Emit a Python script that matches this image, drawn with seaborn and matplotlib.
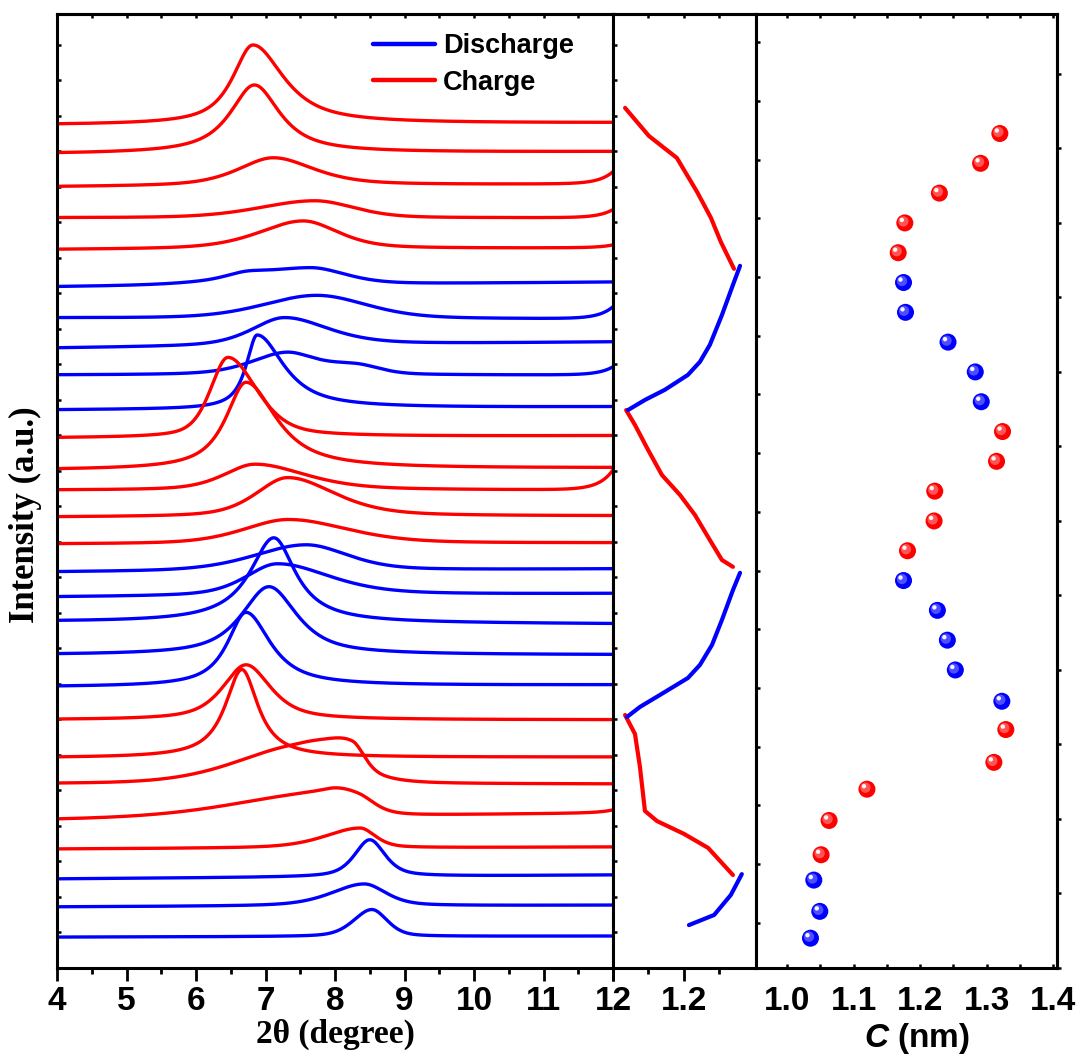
import numpy as np
import matplotlib
matplotlib.use("Agg")
import matplotlib.pyplot as plt
import matplotlib.transforms as mtransforms
from matplotlib.lines import Line2D
from matplotlib.ticker import FixedLocator, MultipleLocator, FormatStrFormatter, NullFormatter
import seaborn as sns

# ---------------- in-situ XRD patterns (top of the stack first) ----------------
scan_phase = (["Charge"] * 5 + ["Discharge"] * 5 + ["Charge"] * 5 +
              ["Discharge"] * 5 + ["Charge"] * 5 + ["Discharge"] * 3)
base_left = [23.75, 22.93, 22.00, 21.13, 20.23, 19.18, 18.31, 17.46, 16.70, 15.72,
             14.93, 14.03, 13.46, 12.70, 11.94, 11.15, 10.45, 9.75, 8.82, 7.92,
             6.99, 5.92, 5.18, 4.17, 3.35, 2.51, 1.72, 0.87]
base_right = [23.80, 22.99, 22.08, 21.13, 20.28, 19.32, 18.28, 17.63, 16.70, 15.80,
              14.99, 14.08, 13.46, 12.73, 11.97, 11.24, 10.54, 9.69, 8.82, 7.97,
              6.99, 5.94, 5.18, 4.37, 3.41, 2.62, 1.77, 0.90]
peak_pos = [6.82, 6.84, 7.11, 7.71, 7.54, 7.64, 7.74, 7.27, 7.30, 6.88,
            6.46, 6.72, 6.85, 7.32, 7.33, 7.58, 7.17, 7.12, 7.05, 6.72,
            6.72, 6.66, 7.55, 7.90, 8.36, 8.50, 8.42, 8.53]
peak_amp = [2.23, 1.92, 0.79, 0.48, 0.79, 0.48, 0.65, 0.79, 0.62, 2.08,
            2.25, 2.45, 0.73, 1.10, 0.68, 0.73, 0.90, 2.39, 1.92, 2.08,
            1.55, 2.48, 1.07, 0.68, 0.56, 1.04, 0.62, 0.76]
peak_hw_left = [0.35, 0.42, 0.60, 0.93, 0.75, 1.10, 0.90, 0.55, 0.60, 0.19,
                0.30, 0.35, 0.53, 0.54, 0.76, 0.88, 0.54, 0.42, 0.47, 0.32,
                0.40, 0.29, 1.10, 1.50, 0.60, 0.26, 0.56, 0.31]
peak_hw_right = [0.53, 0.44, 0.70, 0.66, 0.60, 0.60, 0.84, 0.75, 0.50, 0.46,
                 0.49, 0.52, 0.86, 0.80, 1.00, 0.71, 0.90, 0.38, 0.48, 0.42,
                 0.42, 0.28, 0.70, 0.50, 0.26, 0.26, 0.37, 0.26]
peak_lorentz = [0.85, 0.90, 0.60, 0.30, 0.50, 0.40, 0.30, 0.50, 0.50, 0.90,
                0.50, 0.90, 0.50, 0.50, 0.40, 0.40, 0.50, 1.00, 0.80, 0.90,
                0.70, 0.95, 0.30, 0.30, 0.50, 0.60, 0.50, 0.40]
shoulder_pos = [0, 0, 0, 0, 0, 6.70, 0, 0, 8.30, 0,
                0, 0, 0, 0, 0, 0, 0, 0, 0, 0,
                0, 0, 8.25, 8.35, 0, 0, 0, 0]
shoulder_amp = [0, 0, 0, 0, 0, 0.11, 0, 0, 0.25, 0,
                0, 0, 0, 0, 0, 0, 0, 0, 0, 0,
                0, 0, 0.68, 0.25, 0, 0, 0, 0]
shoulder_hw_left = [1, 1, 1, 1, 1, 0.30, 1, 1, 0.50, 1,
                    1, 1, 1, 1, 1, 1, 1, 1, 1, 1,
                    1, 1, 0.40, 0.40, 1, 1, 1, 1]
shoulder_hw_right = [1, 1, 1, 1, 1, 0.30, 1, 1, 0.40, 1,
                     1, 1, 1, 1, 1, 1, 1, 1, 1, 1,
                     1, 1, 0.20, 0.25, 1, 1, 1, 1]
edge_rise = [0, 0, 0.34, 0.23, 0.08, 0, 0.34, 0, 0.23, 0,
             0, 0, 0.56, 0, 0, 0, 0, 0, 0, 0,
             0, 0, 0, 0.08, 0, 0, 0, 0]

# ---------------- electrode curve, in time order (bottom to top) ----------------
seg_phase = ["Discharge", "Charge", "Discharge", "Charge", "Discharge", "Charge"]
seg_value = [
    [1.214, 1.285, 1.332, 1.363],
    [1.338, 1.268, 1.200, 1.124, 1.090, 1.076, 1.062, 1.034],
    [1.039, 1.076, 1.132, 1.211, 1.245, 1.279, 1.307, 1.338, 1.358],
    [1.338, 1.307, 1.273, 1.231, 1.189, 1.138, 1.099, 1.062, 1.037],
    [1.042, 1.090, 1.146, 1.211, 1.245, 1.273, 1.307, 1.338, 1.358],
    [1.341, 1.304, 1.276, 1.237, 1.180, 1.101, 1.034],
]
seg_time = [
    [1.44, 1.78, 2.45, 3.15],
    [3.12, 4.03, 4.50, 4.93, 5.27, 6.74, 7.85, 8.49],
    [8.42, 8.76, 9.16, 9.73, 10.17, 10.84, 11.68, 12.68, 13.26],
    [13.46, 13.69, 14.36, 15.20, 15.87, 16.54, 17.38, 18.22, 18.72],
    [18.72, 19.06, 19.40, 19.90, 20.34, 20.91, 21.91, 22.92, 23.56],
    [23.46, 24.36, 25.17, 26.04, 27.18, 27.92, 28.86],
]

# ---------------- interlayer spacing C per scan (bottom to top) ----------------
c_time = [1.0, 1.9, 2.95, 3.8, 4.95, 6.0, 6.9, 8.0, 8.95, 10.0, 11.0, 12.0, 13.0, 14.0,
          15.0, 16.0, 17.0, 18.0, 19.0, 20.0, 21.0, 22.0, 23.0, 24.0, 25.0, 26.0, 27.0, 28.0]
c_nm = [1.035, 1.049, 1.040, 1.051, 1.063, 1.120, 1.311, 1.329, 1.323, 1.253, 1.241,
        1.226, 1.175, 1.181, 1.221, 1.222, 1.315, 1.324, 1.292, 1.283, 1.242, 1.178,
        1.175, 1.167, 1.177, 1.229, 1.291, 1.320]
c_phase = (["Discharge"] * 3 + ["Charge"] * 5 + ["Discharge"] * 5 + ["Charge"] * 5 +
           ["Discharge"] * 5 + ["Charge"] * 5)

palette = {"Discharge": "#0000ff", "Charge": "#ff0000"}
highlight = {"Discharge": "#8f8fff", "Charge": "#ff9a9a"}

sns.set_theme(style="ticks")
plt.rcParams.update({
    "font.family": ["Liberation Sans", "DejaVu Sans"],
    "font.weight": "bold",
    "text.color": "black",
    "axes.labelcolor": "black",
    "axes.linewidth": 2.2,
    "axes.edgecolor": "black",
    "xtick.color": "black",
    "ytick.color": "black",
    "xtick.labelcolor": "black",
    "ytick.labelcolor": "black",
    "mathtext.fontset": "custom",
    "mathtext.it": "Liberation Sans:italic:bold",
    "mathtext.rm": "Liberation Sans:bold",
})

fig = plt.figure(figsize=(10.84, 10.56), dpi=100)
W, H = 1084.0, 1056.0
ax1 = fig.add_axes([57 / W, 88 / H, 556 / W, 954 / H])
ax2 = fig.add_axes([613 / W, 88 / H, 143 / W, 954 / H])
ax3 = fig.add_axes([756 / W, 88 / H, 301 / W, 954 / H])


def split_pseudo_voigt(x, c, a, wl, wr, eta):
    w = np.where(x < c, wl, wr)
    d = (x - c) / w
    return a * (eta / (1.0 + d ** 2) + (1.0 - eta) * np.exp(-np.log(2.0) * d ** 2))


two_theta = np.linspace(4, 12, 1601)
for i in range(len(scan_phase)):
    base = base_left[i] + (base_right[i] - base_left[i]) * (two_theta - 4) / 8
    y = base + split_pseudo_voigt(two_theta, peak_pos[i], peak_amp[i],
                                  peak_hw_left[i], peak_hw_right[i], peak_lorentz[i])
    if shoulder_amp[i] > 0:
        y = y + split_pseudo_voigt(two_theta, shoulder_pos[i], shoulder_amp[i],
                                   shoulder_hw_left[i], shoulder_hw_right[i], 0.3)
    y = y + edge_rise[i] * np.exp((two_theta - 12) / 0.2)
    sns.lineplot(x=two_theta, y=y, color=palette[scan_phase[i]], linewidth=2.4,
                 sort=False, estimator=None, ax=ax1)

ax1.set_xlim(4, 12)
ax1.set_ylim(0, 26.87)
ax1.xaxis.set_major_locator(MultipleLocator(1))
ax1.xaxis.set_minor_locator(MultipleLocator(0.5))
ax1.tick_params(axis="x", which="major", direction="out", length=9, width=2.0,
                labelsize=24, pad=4)
ax1.tick_params(axis="x", which="minor", direction="out", length=4.5, width=2.0)
ax1.yaxis.set_major_locator(FixedLocator(np.arange(27)))
ax1.yaxis.set_major_formatter(NullFormatter())
ax1.tick_params(axis="y", direction="in", length=3, width=1.8, left=True, right=False)
top1 = ax1.secondary_xaxis("top")
top1.xaxis.set_major_locator(MultipleLocator(0.5))
top1.xaxis.set_major_formatter(NullFormatter())
top1.tick_params(direction="in", length=3, width=1.8)
for lab in ax1.get_xticklabels():
    lab.set_fontweight("bold")
ax1.set_xlabel("2θ (degree)", family="Liberation Serif", fontsize=24, fontweight="bold")
ax1.xaxis.set_label_coords(0.5, -0.053)
ax1.set_ylabel("Intensity (a.u.)", family="Liberation Serif", fontsize=25, fontweight="bold")
ax1.yaxis.set_label_coords(-0.027, 0.475)

handles = [Line2D([], [], color=palette["Discharge"], linewidth=3.2),
           Line2D([], [], color=palette["Charge"], linewidth=3.2)]
ax1.legend(handles, ["Discharge", "Charge"], loc="upper left",
           bbox_to_anchor=(0.568, 0.98), frameon=False,
           prop={"size": 19.5, "weight": "bold", "family": "Liberation Sans"},
           handlelength=2.3, handletextpad=0.3, labelspacing=0.4,
           borderpad=0, borderaxespad=0)

# middle: electrode curve
for vals, times, ph in zip(seg_value, seg_time, seg_phase):
    sns.lineplot(x=vals, y=times, color=palette[ph], linewidth=3.0, sort=False,
                 estimator=None, ax=ax2, solid_capstyle="round", solid_joinstyle="round")
ax2.set_xlim(1.0, 1.403)
ax2.set_ylim(0, 32.01)
ax2.xaxis.set_major_locator(FixedLocator([1.0, 1.2]))
ax2.set_xticklabels(["", "1.2"])
ax2.xaxis.set_minor_locator(FixedLocator([1.1, 1.3]))
ax2.tick_params(axis="x", which="major", direction="out", length=9, width=2.0,
                labelsize=24, pad=4)
ax2.tick_params(axis="x", which="minor", direction="out", length=4.5, width=2.0)
for lab in ax2.get_xticklabels():
    lab.set_fontweight("bold")
ax2.yaxis.set_major_locator(FixedLocator(np.arange(27) * 32.01 / 26.87))
ax2.yaxis.set_major_formatter(NullFormatter())
ax2.tick_params(axis="y", direction="in", length=3, width=1.8, left=True, right=False)
top2 = ax2.secondary_xaxis("top")
top2.xaxis.set_major_locator(FixedLocator([1.1, 1.2, 1.3]))
top2.xaxis.set_major_formatter(NullFormatter())
top2.tick_params(direction="in", length=3, width=1.8)
ax2.set_xlabel("")
ax2.set_ylabel("")

# right: interlayer spacing
sns.scatterplot(x=c_nm, y=c_time, hue=c_phase, palette=palette, s=150,
                edgecolor="none", linewidth=0, legend=False, ax=ax3, zorder=3)
for dx, dy, size, alpha, key in [(-1.5, 1.5, 55, 0.55, "tint"), (-3.0, 3.0, 10, 0.95, "white")]:
    tr = mtransforms.offset_copy(ax3.transData, fig=fig, x=dx, y=dy, units="dots")
    cols = [highlight[p] if key == "tint" else "white" for p in c_phase]
    ax3.scatter(c_nm, c_time, s=size, c=cols, alpha=alpha, edgecolors="none",
                transform=tr, zorder=4)
ax3.set_xlim(0.953, 1.406)
ax3.set_ylim(0, 32.01)
ax3.xaxis.set_major_locator(MultipleLocator(0.1))
ax3.xaxis.set_major_formatter(FormatStrFormatter("%.1f"))
ax3.xaxis.set_minor_locator(MultipleLocator(0.05))
ax3.tick_params(axis="x", which="both", direction="in", length=3, width=1.8,
                top=True, bottom=True, labelsize=24, pad=13)
for lab in ax3.get_xticklabels():
    lab.set_fontweight("bold")
ax3.yaxis.set_major_locator(FixedLocator(np.linspace(1.52, 31.06, 16)))
ax3.yaxis.set_major_formatter(NullFormatter())
ax3.tick_params(axis="y", direction="in", length=3, width=1.8, left=True, right=False)
right3 = ax3.secondary_yaxis("right")
right3.yaxis.set_major_locator(MultipleLocator(2.5))
right3.yaxis.set_major_formatter(NullFormatter())
right3.tick_params(direction="out", length=3, width=1.8)
ax3.set_xlabel(r"$C$ (nm)", fontsize=24, fontweight="bold")
ax3.xaxis.set_label_coords(0.535, -0.056)
ax3.set_ylabel("")

for ax in (ax1, ax2, ax3):
    for sp in ax.spines.values():
        sp.set_linewidth(2.2)

fig.savefig("out.png", dpi=100)
